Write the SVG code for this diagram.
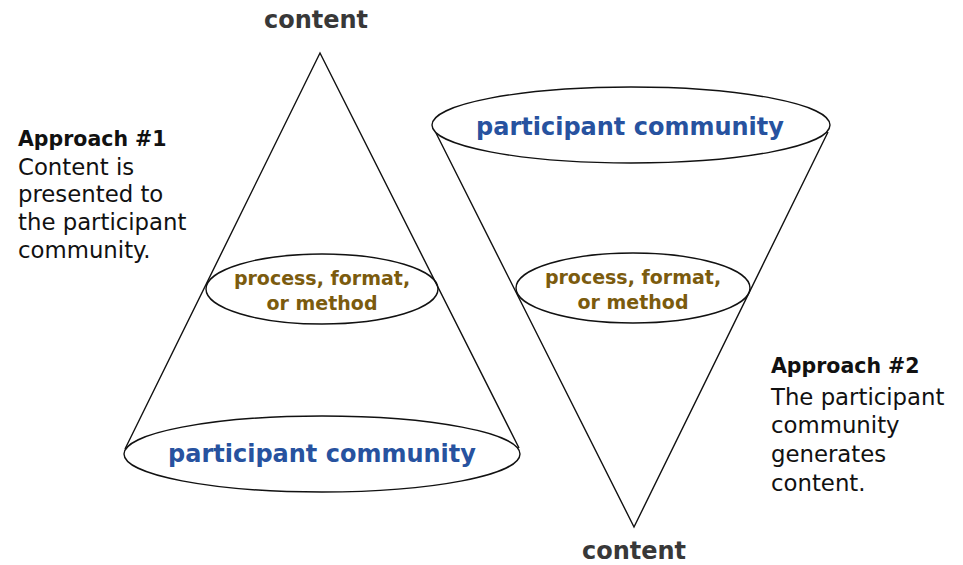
<svg xmlns="http://www.w3.org/2000/svg" width="963" height="565" viewBox="0 0 963 565">
  <style>
    .edge { fill: none; stroke: #111; stroke-width: 1.4; }
    .ring { fill: none; stroke: #111; stroke-width: 1.4; }
    .tip { font-family: "DejaVu Sans", Verdana, sans-serif; font-weight: bold; font-size: 24px; fill: #383838; text-anchor: middle; }
    .crowd { font-family: "DejaVu Sans", Verdana, sans-serif; font-weight: bold; font-size: 24px; fill: #27529f; text-anchor: middle; }
    .method { font-family: "DejaVu Sans", Verdana, sans-serif; font-weight: bold; font-size: 19px; fill: #7b5b0e; text-anchor: middle; }
    .head { font-family: "DejaVu Sans", Verdana, sans-serif; font-weight: bold; font-size: 20.5px; fill: #111; }
    .note { font-family: "DejaVu Sans", Verdana, sans-serif; font-size: 22.8px; fill: #111; }
  </style>
  <rect width="963" height="565" fill="#ffffff"/>

  <!-- cone outlines -->
  <g id="connectors">
    <polyline class="edge" points="125,449 320,53 519,448"/>
    <polyline class="edge" points="436,133 634,527 828,132"/>
  </g>

  <!-- left cone: content at the tip, community at the base -->
  <g id="left-top-content">
    <text class="tip" x="316" y="28">content</text>
  </g>
  <g id="left-method">
    <ellipse class="ring" cx="322" cy="289" rx="116" ry="35"/>
    <text class="method" x="322" y="285">process, format,</text>
    <text class="method" x="322" y="310">or method</text>
  </g>
  <g id="left-community">
    <ellipse class="ring" cx="322" cy="454" rx="198" ry="38"/>
    <text class="crowd" x="322" y="462">participant community</text>
  </g>

  <!-- right cone: community at the top, content at the tip -->
  <g id="right-community">
    <ellipse class="ring" cx="631" cy="125" rx="199" ry="38"/>
    <text class="crowd" x="630" y="135">participant community</text>
  </g>
  <g id="right-method">
    <ellipse class="ring" cx="633" cy="288" rx="117" ry="35"/>
    <text class="method" x="633" y="284">process, format,</text>
    <text class="method" x="633" y="309">or method</text>
  </g>
  <g id="right-bottom-content">
    <text class="tip" x="634" y="559">content</text>
  </g>

  <!-- side captions -->
  <g id="approach-1">
    <text class="head" x="18" y="146">Approach #1</text>
    <text class="note" x="18" y="175">Content is</text>
    <text class="note" x="18" y="202">presented to</text>
    <text class="note" x="18" y="230">the participant</text>
    <text class="note" x="18" y="258">community.</text>
  </g>
  <g id="approach-2">
    <text class="head" x="771" y="373">Approach #2</text>
    <text class="note" x="771" y="405">The participant</text>
    <text class="note" x="771" y="433">community</text>
    <text class="note" x="771" y="462">generates</text>
    <text class="note" x="771" y="491">content.</text>
  </g>
</svg>
